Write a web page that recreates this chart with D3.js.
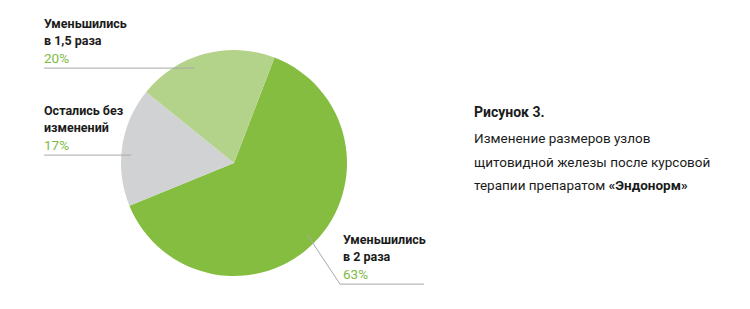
<!DOCTYPE html>
<html>
<head>
<meta charset="utf-8">
<script src="https://cdn.jsdelivr.net/npm/d3@7"></script>
<style>
  html, body { margin: 0; padding: 0; background: #fff; }
  svg text { font-family: Roboto, "Noto Sans", sans-serif; }
</style>
</head>
<body>
<div class="chart"></div>
<script>
// data
var categories = ["Уменьшились в 2 раза", "Остались без изменений", "Уменьшились в 1,5 раза"];
var labelLines = [["Уменьшились", "в 2 раза"], ["Остались без", "изменений"], ["Уменьшились", "в 1,5 раза"]];
var values = [63, 17, 20];
var titleText = "Рисунок 3.";
var captionLines = ["Изменение размеров узлов", "щитовидной железы после курсовой", "терапии препаратом "];
var captionBold = "«Эндонорм»";

drawchart();

function drawchart() {
    var width = 750,
        height = 309,
        cx = 234,
        cy = 163,
        r = 113,
        rAnchor = 103,
        τ = 2 * Math.PI,
        start = 21 / 360 * τ;

    var svg = d3.select(".chart").append("svg")
        .attr("width", width)
        .attr("height", height);

    var color = d3.scaleOrdinal()
        .domain(categories)
        .range(["#85bd41", "#d1d2d4", "#b3d38a"]);

    var pie = d3.pie()
        .sort(null)
        .value(function (d) { return d; })
        .startAngle(start)
        .endAngle(start + τ);

    var arcs = pie(values);

    var arc = d3.arc().innerRadius(0).outerRadius(r);
    var anchorArc = d3.arc().innerRadius(rAnchor).outerRadius(rAnchor);

    var g = svg.append("g").attr("transform", "translate(" + cx + "," + cy + ")");

    g.selectAll("path")
        .data(arcs)
        .enter().append("path")
        .attr("d", arc)
        .attr("fill", function (d, i) { return color(categories[i]); });

    // label placement (first baseline), per slice
    var labelPos = [
        {x: 343, y: 244, side: "right"},
        {x: 44, y: 115, side: "left"},
        {x: 44, y: 28, side: "left"}
    ];
    var lh = 17.3;

    // leader lines
    var lines = svg.append("g")
        .attr("fill", "none")
        .attr("stroke", "#a9a9a9")
        .attr("stroke-width", 1);

    arcs.forEach(function (d, i) {
        var p = labelPos[i];
        var ly = p.y + lh * 2 + 5.5;
        if (p.side === "left") {
            var dy = ly - cy;
            var ex = cx - Math.sqrt(rAnchor * rAnchor - dy * dy);
            lines.append("path").attr("d", d3.line()([[p.x, ly], [ex, ly]]));
        } else {
            var c = anchorArc.centroid(d);
            lines.append("path").attr("d", d3.line()([
                [cx + c[0], cy + c[1]],
                [p.x - 3, ly],
                [p.x + 81, ly]
            ]));
        }
    });

    // labels
    arcs.forEach(function (d, i) {
        var p = labelPos[i];
        var t = svg.append("text")
            .attr("x", p.x)
            .attr("y", p.y)
            .attr("font-size", "12.5px");
        labelLines[i].forEach(function (s, k) {
            t.append("tspan")
                .attr("x", p.x)
                .attr("dy", k === 0 ? 0 : lh)
                .attr("font-weight", "bold")
                .attr("fill", "#1b1b1b")
                .text(s);
        });
        t.append("tspan")
            .attr("x", p.x)
            .attr("dy", lh)
            .attr("fill", "#7dbb3f")
            .attr("font-size", "13.5px")
            .text(d.data + "%");
    });

    // caption
    var cap = svg.append("g").attr("fill", "#1b1b1b");
    cap.append("text")
        .attr("x", 474)
        .attr("y", 117)
        .attr("font-size", "14px")
        .attr("font-weight", "bold")
        .text(titleText);

    var body = cap.append("text")
        .attr("x", 474)
        .attr("y", 143)
        .attr("font-size", "13.5px");
    captionLines.forEach(function (s, k) {
        body.append("tspan")
            .attr("x", 474)
            .attr("dy", k === 0 ? 0 : 23.5)
            .text(s);
    });
    body.append("tspan")
        .attr("font-weight", "bold")
        .text(captionBold);
}
</script>
</body>
</html>
